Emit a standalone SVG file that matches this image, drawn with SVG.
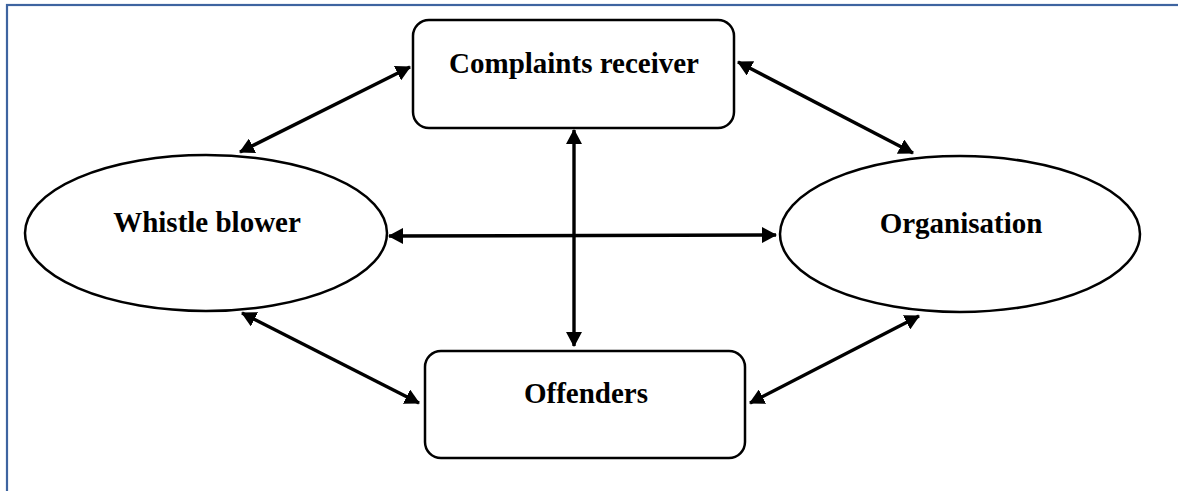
<svg xmlns="http://www.w3.org/2000/svg" width="1178" height="491" viewBox="0 0 1178 491">
  <defs>
    <style>
      .node { fill: #ffffff; stroke: #000000; stroke-width: 2.5; }
      .label { font-family: "Liberation Serif", "Times New Roman", serif; font-weight: bold; font-size: 29px; fill: #000000; text-anchor: middle; }
      .conn { stroke: #000000; stroke-width: 3.4; fill: none; marker-start: url(#arrow); marker-end: url(#arrow); }
    </style>
    <marker id="arrow" viewBox="0 0 15 16" markerWidth="15" markerHeight="16" refX="14" refY="8" orient="auto-start-reverse" markerUnits="userSpaceOnUse">
      <path d="M0,0 L15,8 L0,16 z" fill="#000000"/>
    </marker>
  </defs>
  <rect x="0" y="0" width="1178" height="491" fill="#ffffff"/>
  <rect x="7" y="5" width="1200" height="600" fill="none" stroke="#3E64A0" stroke-width="2.2"/>

  <g id="complaints-receiver">
    <rect class="node" x="413" y="20" width="321" height="108" rx="16" ry="16"/>
    <text class="label" x="574" y="73">Complaints receiver</text>
  </g>
  <g id="whistle-blower">
    <ellipse class="node" cx="206" cy="233" rx="181" ry="78"/>
    <text class="label" x="207" y="232">Whistle blower</text>
  </g>
  <g id="organisation">
    <ellipse class="node" cx="960" cy="234" rx="180" ry="78"/>
    <text class="label" x="961" y="233">Organisation</text>
  </g>
  <g id="offenders">
    <rect class="node" x="425" y="351" width="320" height="107" rx="16" ry="16"/>
    <text class="label" x="586" y="403">Offenders</text>
  </g>

  <g id="connectors">
    <line class="conn" x1="410" y1="67" x2="240" y2="152"/>
    <line class="conn" x1="738" y1="62" x2="913" y2="153"/>
    <line class="conn" x1="574" y1="130" x2="574" y2="346"/>
    <line class="conn" x1="389" y1="236" x2="776" y2="235"/>
    <line class="conn" x1="242" y1="313" x2="419" y2="403"/>
    <line class="conn" x1="750" y1="403" x2="919" y2="316"/>
  </g>
</svg>
